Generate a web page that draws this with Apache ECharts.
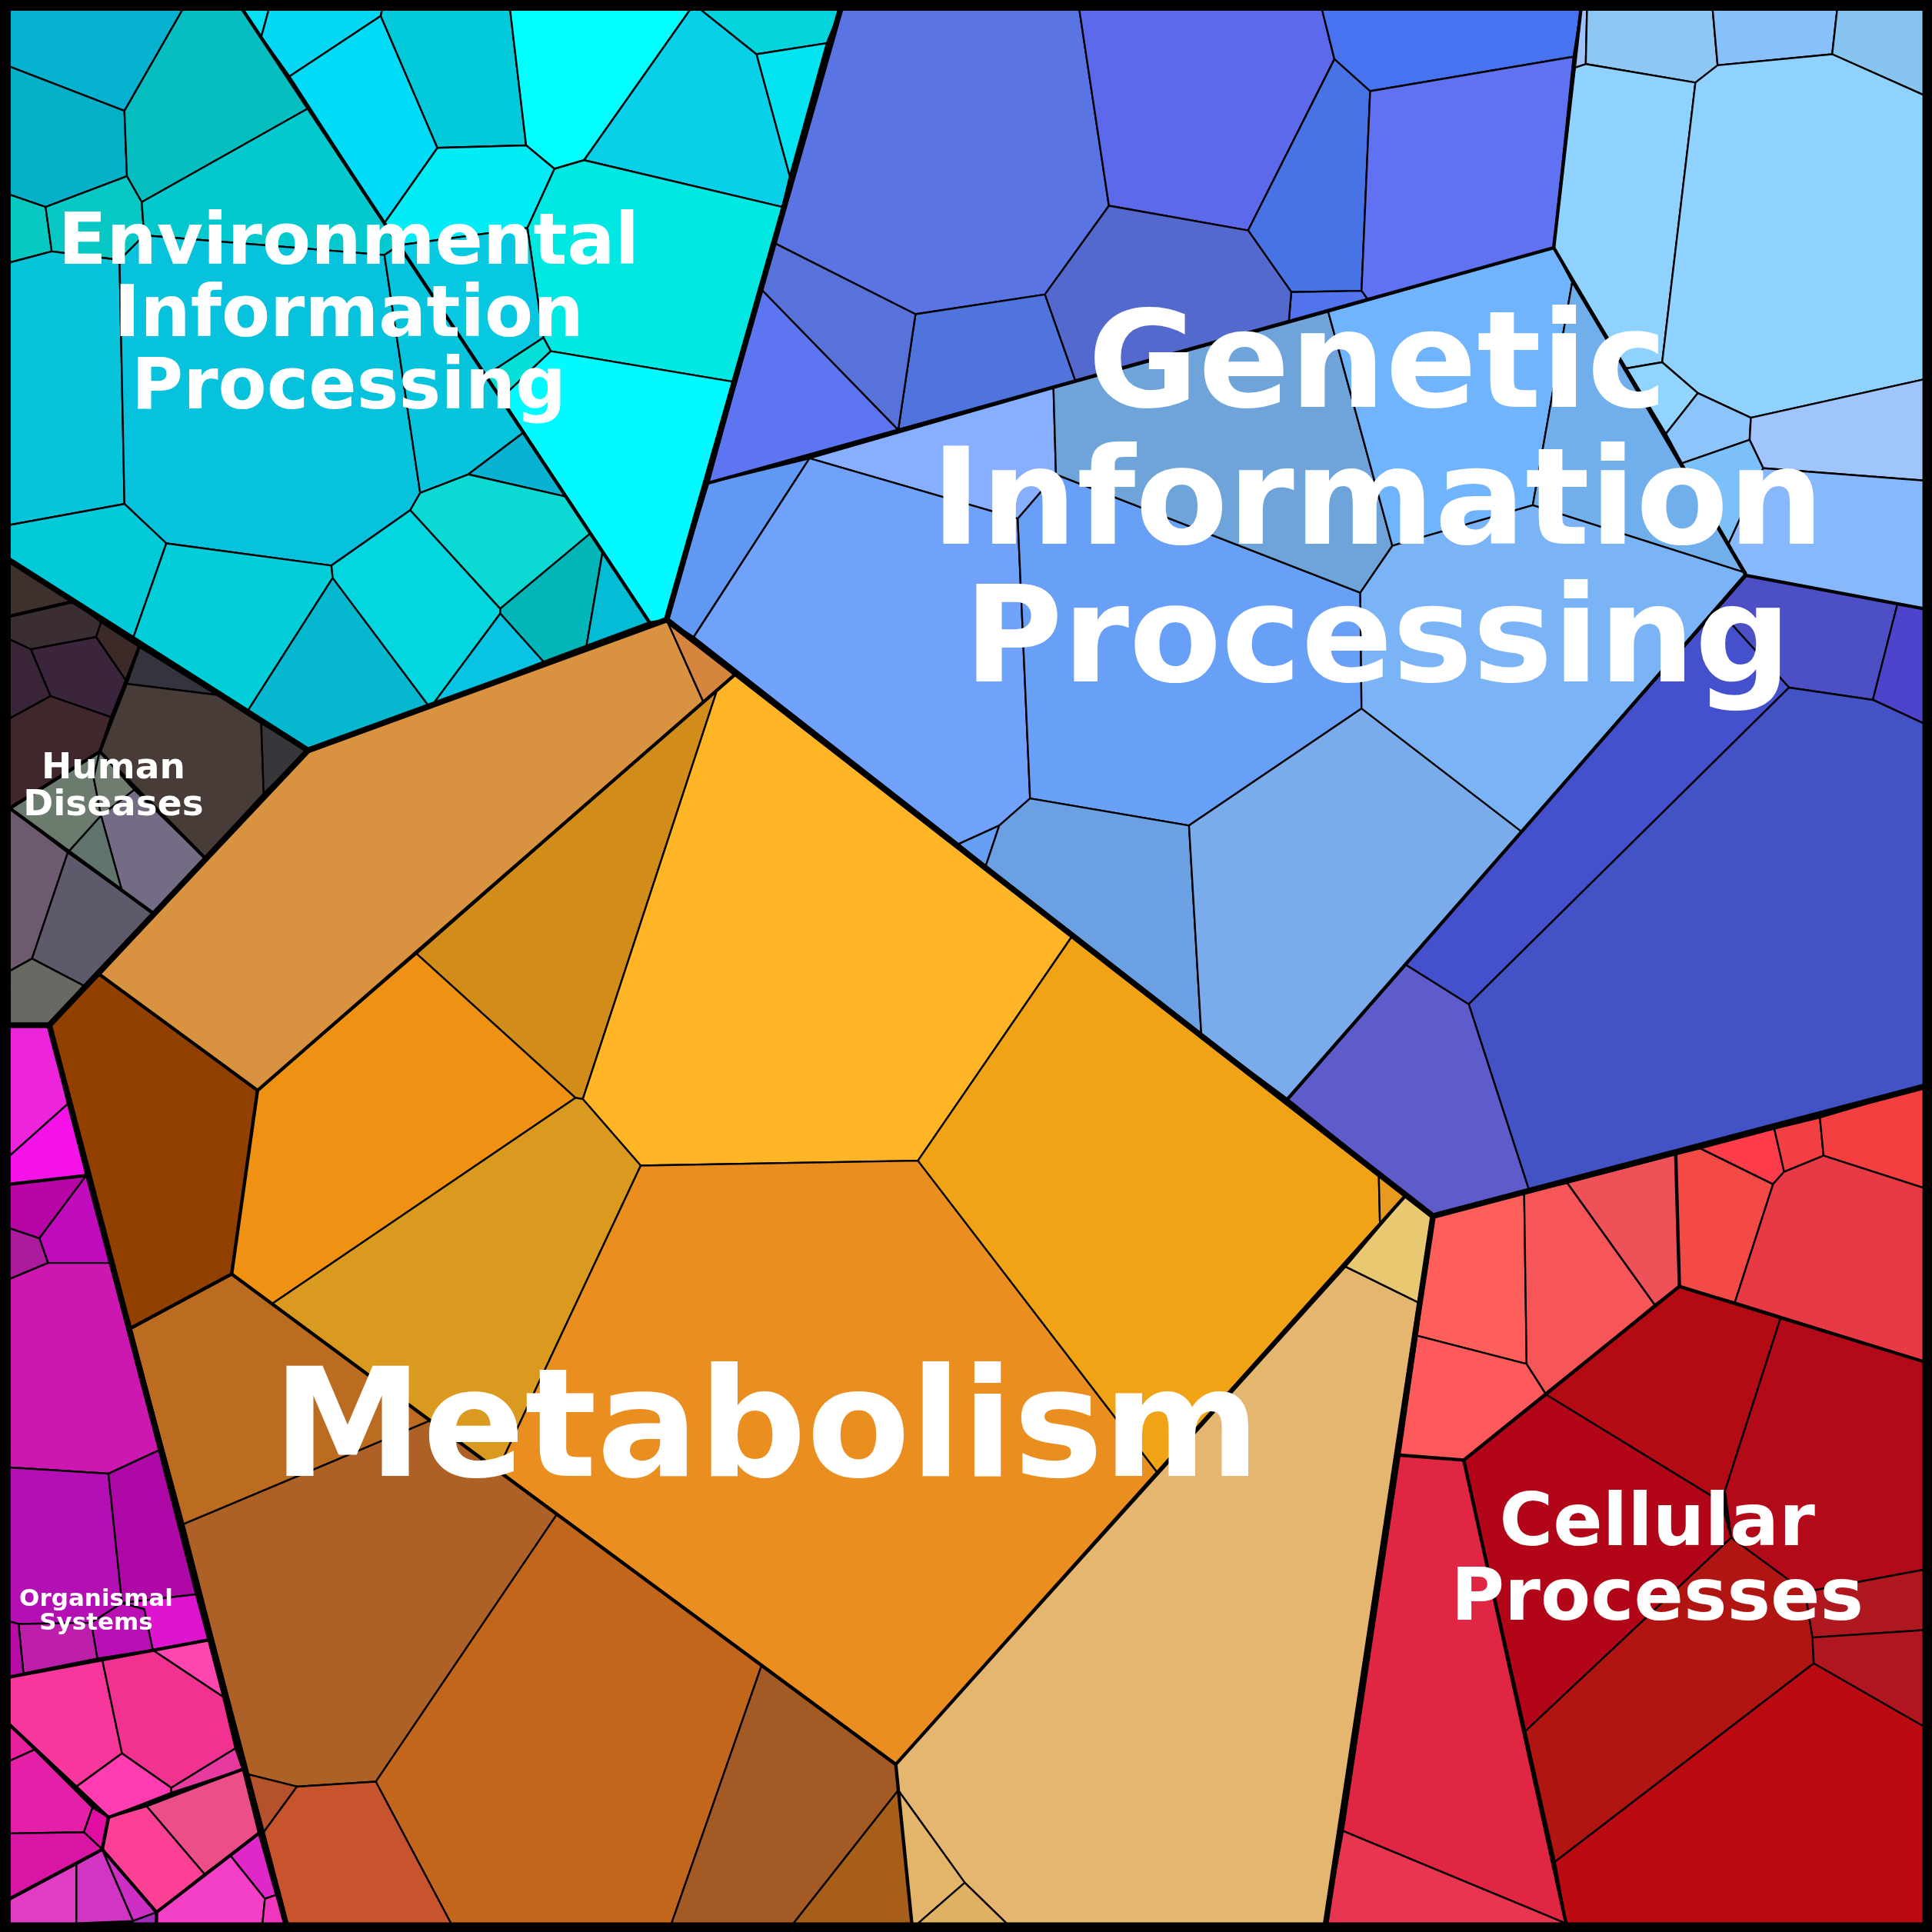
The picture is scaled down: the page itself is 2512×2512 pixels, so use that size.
<!DOCTYPE html>
<html><head><meta charset="utf-8">
<style>html,body{margin:0;padding:0;background:#000}#c{width:2512px;height:2512px}</style>
<script src="https://cdn.jsdelivr.net/npm/echarts@6/dist/echarts.min.js"></script>
</head><body><div id="c"></div>
<script>
const domainMax = 1568;
const environmentalCells = [
[[8,8],[148,8],[101,90],[8,54]],
[[8,54],[101,90],[103,143],[37,168],[8,158]],
[[148,8],[197,8],[250,88],[115,164],[103,143],[101,90]],
[[8,158],[37,168],[42,204],[8,213]],
[[37,168],[103,143],[115,164],[117,191],[97,211],[42,204]],
[[8,213],[42,204],[97,211],[101,409],[8,426]],
[[115,164],[250,88],[324,199],[312,207],[117,191]],
[[97,211],[117,191],[312,207],[341,400],[333,414],[269,459],[135,441],[101,409]],
[[312,207],[324,199],[425,351],[380,385],[341,400]],
[[380,385],[425,351],[459,403]],
[[8,426],[101,409],[135,441],[108,518],[8,455]],
[[135,441],[269,459],[270,469],[201,577],[108,518]],
[[270,469],[348,573],[250,609],[201,577]],
[[269,459],[333,414],[406,494],[406,498],[351,572],[348,573],[270,469]],
[[333,414],[341,400],[380,385],[459,403],[479,433],[406,494]],
[[406,494],[479,433],[489,448],[476,524],[441,537],[406,498]],
[[406,498],[441,537],[351,572]],
[[489,448],[527,505],[476,524]],
[[197,8],[218,8],[212,30]],
[[218,8],[310,8],[309,13],[235,62],[212,30]],
[[235,62],[309,13],[355,120],[312,181]],
[[310,8],[414,8],[427,118],[355,120],[309,13]],
[[414,8],[560,8],[474,130],[450,137],[427,118]],
[[560,8],[569,8],[614,44],[641,143],[635,168],[474,130]],
[[569,8],[682,8],[671,35],[614,44]],
[[614,44],[671,35],[641,143]],
[[355,120],[427,118],[450,137],[428,185],[324,199],[312,181]],
[[428,185],[450,137],[474,130],[635,168],[596,310],[447,285],[441,274]],
[[324,199],[428,185],[441,274],[394,305]],
[[441,274],[447,285],[407,323],[394,305]],
[[447,285],[596,310],[541,503],[527,505],[407,323]]
];
const environmentalColors = ['#06b2cf','#05b0c8','#06bdc0','#08c8c2','#07c8c4','#07c4da','#03c8cd','#07c2dc','#06c4dc','#08b2d0','#03cad9','#02ced9','#05b8d0','#04d6e0','#0cd8d4','#02b6b8','#08c4e2','#04bcd6','#05e0f5','#04d8f4','#00dcf8','#02cadb','#00ffff','#08d0e8','#03d4dc','#02e4f0','#02ecf5','#00e8e2','#06c8e0','#04e0d8','#00faff'];

const humanCells = [
[[8,455],[60,488],[8,500]],
[[8,500],[60,488],[82,505],[78,517],[25,527],[8,519]],
[[82,505],[113,525],[102,552],[78,517]],
[[25,527],[78,517],[102,552],[90,582],[41,565]],
[[8,519],[25,527],[41,565],[8,583]],
[[8,583],[41,565],[90,582],[81,610],[8,656]],
[[113,525],[176,564],[103,555]],
[[103,555],[176,564],[212,587],[214,644],[166,696],[81,610]],
[[212,587],[250,609],[214,644]],
[[8,656],[81,610],[76,631],[82,662],[55,692]],
[[81,610],[109,641],[82,662],[76,631]],
[[109,641],[166,696],[124,741],[99,723],[82,662]],
[[55,692],[82,662],[99,723]],
[[8,656],[55,692],[26,778],[8,788]],
[[55,692],[124,741],[68,800],[26,778]],
[[8,788],[26,778],[68,800],[40,832],[8,832]]
];
const humanColors = ['#3e302d','#3a2d33','#3b2a27','#3b253c','#3a2438','#40272b','#35343e','#483c38','#37373b','#6b7c6e','#707c70','#746c84','#60736d','#6e5a6e','#5e5a6c','#676a62'];

const organismalCells = [
[[8,832],[40,832],[55,896],[8,938]],
[[8,938],[55,896],[70,954],[8,961]],
[[8,961],[70,954],[32,1005],[8,997]],
[[70,954],[89,1025],[39,1025],[32,1005]],
[[8,997],[32,1005],[39,1025],[8,1038]],
[[8,1038],[39,1025],[89,1025],[129,1177],[88,1196],[8,1191]],
[[8,1191],[88,1196],[99,1301],[74,1317],[15,1318],[8,1316]],
[[88,1196],[129,1177],[159,1294],[99,1301]],
[[99,1301],[159,1294],[169,1331],[124,1339],[117,1306]],
[[74,1317],[99,1301],[117,1306],[124,1339],[79,1346]],
[[15,1318],[74,1317],[79,1346],[19,1358]],
[[8,1316],[15,1318],[19,1358],[8,1361]],
[[8,1361],[83,1347],[99,1423],[62,1450],[8,1400]],
[[83,1347],[124,1339],[181,1377],[191,1419],[139,1451],[99,1423]],
[[124,1339],[169,1331],[181,1377]],
[[99,1423],[139,1451],[139,1455],[88,1475],[62,1450]],
[[139,1451],[191,1419],[197,1436],[139,1455]],
[[119,1466],[197,1436],[210,1488],[166,1521]],
[[88,1475],[119,1466],[166,1521],[127,1552],[83,1501]],
[[75,1467],[88,1475],[83,1501],[68,1487]],
[[8,1400],[28,1420],[8,1429]],
[[8,1429],[28,1420],[75,1467],[68,1487],[8,1488]],
[[8,1488],[68,1487],[83,1501],[8,1541]],
[[8,1541],[62,1513],[62,1561],[8,1561]],
[[62,1513],[83,1501],[108,1559],[62,1561]],
[[83,1501],[127,1552],[108,1559]],
[[108,1559],[127,1552],[127,1561],[108,1561]],
[[187,1506],[210,1488],[224,1538],[215,1541]],
[[127,1552],[187,1506],[215,1541],[213,1561],[127,1561]],
[[215,1541],[224,1538],[232,1561],[213,1561]]
];
const organismalColors = ['#ec25dd','#f513e9','#b806a6','#c00cbc','#ac1a9e','#cc18b0','#b40fb4','#ae09a6','#de14ce','#b90fb5','#bd1eaa','#b80ca8','#f7379c','#f13290','#ff46b0','#ff3cb0','#e63aa0','#ec4e8a','#fb4096','#e20ea4','#e8209c','#e41fa8','#d815a4','#e03cc4','#d235c4','#cd2fc4','#a42abc','#e028c8','#f440c6','#ef36bc'];

const metabolismCells = [
[[250,609],[541,503],[571,570],[209,885],[81,791]],
[[541,503],[597,547],[571,570]],
[[582,560],[473,892],[467,891],[338,774]],
[[597,547],[870,760],[745,942],[520,946],[473,892],[582,560]],
[[209,885],[338,774],[467,891],[221,1058],[188,1034]],
[[467,891],[473,892],[520,946],[404,1193],[221,1058]],
[[520,946],[745,942],[940,1196],[727,1432],[404,1193]],
[[870,760],[1119,953],[1120,994],[940,1196],[745,942]],
[[1119,953],[1141,970],[1120,994]],
[[40,832],[81,791],[209,885],[188,1034],[106,1078]],
[[106,1078],[188,1034],[349,1153],[149,1237]],
[[149,1237],[349,1153],[452,1229],[305,1446],[241,1450],[201,1440]],
[[452,1229],[618,1352],[545,1561],[366,1561],[305,1446]],
[[618,1352],[727,1432],[729,1453],[644,1561],[545,1561]],
[[729,1453],[740,1561],[644,1561]],
[[201,1440],[241,1450],[214,1487]],
[[241,1450],[305,1446],[366,1561],[232,1561],[214,1487]],
[[727,1432],[1092,1028],[1151,1057],[1076,1561],[817,1561],[783,1528],[729,1453]],
[[1092,1028],[1141,970],[1163,987],[1151,1057]],
[[729,1453],[783,1528],[745,1561],[740,1561]],
[[783,1528],[817,1561],[745,1561]]
];
const metabolismColors = ['#d9923f','#d6853f','#d18c1a','#ffb525','#ef9214','#d99a1f','#ea8e20','#efa315','#e8991f','#924000','#bc6c20','#ad6126','#c2661c','#a35a25','#a65e18','#b5522c','#c8542e','#e4b66f','#e8c870','#e2b56b','#dfb263'];

const cellularCells = [
[[1163,987],[1237,968],[1239,1107],[1150,1084]],
[[1150,1084],[1239,1107],[1255,1132],[1188,1185],[1136,1181]],
[[1237,968],[1272,960],[1343,1059],[1255,1132],[1239,1107]],
[[1272,960],[1360,937],[1363,1044],[1343,1059]],
[[1360,937],[1380,932],[1439,961],[1408,1057],[1363,1044]],
[[1380,932],[1440,916],[1448,951],[1439,961]],
[[1440,916],[1477,907],[1480,938],[1448,951]],
[[1477,907],[1561,882],[1561,964],[1480,938]],
[[1439,961],[1448,951],[1480,938],[1561,964],[1561,1105],[1408,1057]],
[[1363,1044],[1445,1070],[1400,1210],[1397,1219],[1255,1132]],
[[1445,1070],[1561,1105],[1561,1274],[1465,1292],[1405,1248],[1400,1210]],
[[1188,1185],[1255,1132],[1397,1219],[1405,1248],[1238,1405]],
[[1405,1248],[1465,1292],[1471,1329],[1472,1350],[1262,1511],[1238,1405]],
[[1465,1292],[1561,1274],[1561,1323],[1471,1329]],
[[1471,1329],[1561,1323],[1561,1401],[1472,1350]],
[[1262,1511],[1472,1350],[1561,1401],[1561,1561],[1271,1561]],
[[1136,1181],[1188,1185],[1271,1561],[1090,1486]],
[[1090,1486],[1271,1561],[1076,1561]]
];
const cellularColors = ['#ff5f5a','#fe5a5c','#f65658','#ee5258','#f34a45','#ff3c4a','#f23f43','#f43f40','#e73a44','#b40a13','#b20a18','#b30518','#b01512','#b01820','#b01620','#bc0a12','#e12643','#e83550'];

const geneticCells = [
[[682,8],[876,8],[900,167],[848,239],[743,255],[628,197]],
[[876,8],[1073,8],[1083,48],[1013,187],[900,167]],
[[1073,8],[1283,8],[1277,46],[1112,74],[1083,48]],
[[1083,48],[1112,74],[1105,236],[1048,237],[1013,187]],
[[1112,74],[1277,46],[1261,201],[1110,243],[1105,236]],
[[1048,237],[1105,236],[1110,243],[1046,261]],
[[900,167],[1013,187],[1048,237],[1046,261],[873,310],[848,239]],
[[743,255],[848,239],[873,310],[729,349]],
[[628,197],[743,255],[729,349],[618,235]],
[[618,235],[729,349],[575,392]],
[[1283,8],[1288,8],[1287,52],[1278,55]],
[[1288,8],[1390,8],[1394,53],[1376,67],[1287,52]],
[[1390,8],[1491,8],[1487,44],[1394,53]],
[[1491,8],[1561,8],[1561,77],[1487,44]],
[[1278,55],[1287,52],[1376,67],[1349,294],[1320,299],[1261,201]],
[[1376,67],[1394,53],[1487,44],[1561,77],[1561,308],[1421,339],[1378,319],[1349,294]],
[[1320,299],[1349,294],[1378,319],[1352,352]],
[[1378,319],[1421,339],[1420,357],[1365,376],[1352,352]],
[[1421,339],[1561,308],[1561,390],[1431,380],[1420,357]],
[[1365,376],[1420,357],[1431,380],[1403,441]],
[[1431,380],[1561,390],[1561,494],[1417,467],[1403,441]],
[[575,392],[657,372],[563,517],[541,503]],
[[657,372],[855,315],[857,385],[826,421]],
[[657,372],[826,421],[836,648],[811,670],[778,685],[563,517]],
[[778,685],[811,670],[800,703]],
[[826,421],[857,385],[1104,481],[1105,575],[965,670],[836,648]],
[[811,670],[836,648],[965,670],[975,840],[800,703]],
[[965,670],[1105,575],[1235,675],[1045,892],[975,840]],
[[855,315],[1078,253],[1130,443],[1104,481],[857,385]],
[[1078,253],[1261,201],[1276,229],[1244,410],[1130,443]],
[[1276,229],[1417,465],[1244,410]],
[[1130,443],[1244,410],[1417,465],[1235,675],[1105,575],[1104,481]],
[[1393,493],[1417,467],[1540,490],[1520,568],[1452,558]],
[[1141,783],[1393,493],[1452,558],[1192,815]],
[[1540,490],[1561,494],[1561,587],[1520,568]],
[[1192,815],[1452,558],[1520,568],[1561,587],[1561,882],[1241,966]],
[[1045,892],[1141,783],[1192,815],[1241,966],[1163,987]]
];
const geneticColors = ['#5a74e4','#5b69ea','#4873f0','#4773e4','#6072f1','#5274ee','#5369cd','#5074de','#5772d8','#5e75f2','#9fc2fb','#8ec6f4','#88c0fc','#88c4f0','#90d2ff','#90d2ff','#90d4ff','#8cc4fc','#a0c4fc','#7cc0fa','#88b8fc','#6098f4','#88aeff','#70a1fb','#669ef4','#68a0f7','#6ba0e2','#7aaceb','#6fa4da','#70b4fd','#70aeec','#7ab4f6','#4c50c4','#4450cc','#4e44cc','#4352c4','#5d5cca'];

const groupBoundaries = [
[[197,8],[527,505]],
[[8,500],[60,488]],
[[113,525],[81,610],[8,656],[124,741]],
[[81,610],[166,696]],
[[8,961],[70,954]],
[[8,1361],[169,1331]],
[[8,1400],[88,1475],[197,1436]],
[[88,1475],[83,1501],[8,1541]],
[[83,1501],[127,1552],[210,1488]],
[[127,1552],[127,1561]],
[[597,547],[209,885],[81,791]],
[[209,885],[188,1034],[106,1078]],
[[188,1034],[727,1432],[740,1561]],
[[1141,970],[727,1432]],
[[1360,937],[1363,1044],[1188,1185],[1136,1181]],
[[1363,1044],[1561,1105]],
[[1188,1185],[1271,1561]],
[[575,392],[1261,201],[1283,8]],
[[1261,201],[1417,467],[1561,494]],
[[1417,467],[1045,892]]
];
const categoryBoundaries = [
[[8,455],[250,609],[40,832],[8,832]],
[[250,609],[541,503],[682,8]],
[[541,503],[1163,987],[1561,882]],
[[1163,987],[1076,1561]],
[[40,832],[232,1561]]
];
const frameOutline = [[[0,0],[1568,0],[1568,1568],[0,1568],[0,0]]];

const labelTexts = ['Metabolism','Genetic\nInformation\nProcessing','Environmental\nInformation\nProcessing','Cellular\nProcesses','Human\nDiseases','Organismal\nSystems'];
const labelCentres = [[622,1166],[1118,413],[283,258],[1345,1269],[92,639],[78,1308]];
const labelSizes = [196,175,92,95,47,31];

const cells = [].concat(environmentalCells,humanCells,organismalCells,metabolismCells,cellularCells,geneticCells);
const colors = [].concat(environmentalColors,humanColors,organismalColors,metabolismColors,cellularColors,geneticColors);

function lineSeries(lines,width){
  return {type:'custom',coordinateSystem:'cartesian2d',silent:true,clip:false,animation:false,
    data:lines.map(l=>l[0]),
    renderItem:function(p,api){
      return {type:'polyline',shape:{points:lines[p.dataIndex].map(v=>api.coord(v))},
        style:{stroke:'#000',fill:null,lineWidth:width,lineJoin:'round',lineCap:'round'}};
    }};
}
const chart = echarts.init(document.getElementById('c'),null,{renderer:'canvas',width:2512,height:2512});
chart.setOption({
  backgroundColor:'#000',animation:false,
  grid:{left:0,right:0,top:0,bottom:0},
  xAxis:{type:'value',min:0,max:domainMax,show:false},
  yAxis:{type:'value',min:0,max:domainMax,inverse:true,show:false},
  series:[
    {type:'custom',coordinateSystem:'cartesian2d',silent:true,clip:false,animation:false,
     data:cells.map(c=>c[0]),
     renderItem:function(p,api){
       return {type:'polygon',shape:{points:cells[p.dataIndex].map(v=>api.coord(v))},
         style:{fill:colors[p.dataIndex],stroke:'#000',lineWidth:2.4,lineJoin:'round'}};
     }},
    lineSeries(groupBoundaries,4.4),
    lineSeries(categoryBoundaries,7.5),
    lineSeries(frameOutline,24),
    {type:'custom',coordinateSystem:'cartesian2d',silent:true,clip:false,animation:false,
     data:labelCentres,
     renderItem:function(p,api){
       const c=api.coord(labelCentres[p.dataIndex]), s=labelSizes[p.dataIndex];
       return {type:'text',x:c[0],y:c[1],
         style:{text:labelTexts[p.dataIndex],x:0,y:0,align:'center',verticalAlign:'middle',
           font:'bold '+s+'px "DejaVu Sans"',lineHeight:s*1.02,fill:'#fff',
           textShadowColor:'rgba(0,0,0,0.75)',textShadowBlur:0,textShadowOffsetX:Math.max(1,s/60),textShadowOffsetY:Math.max(1,s/60)}};
     }}
  ]
});
</script></body></html>
